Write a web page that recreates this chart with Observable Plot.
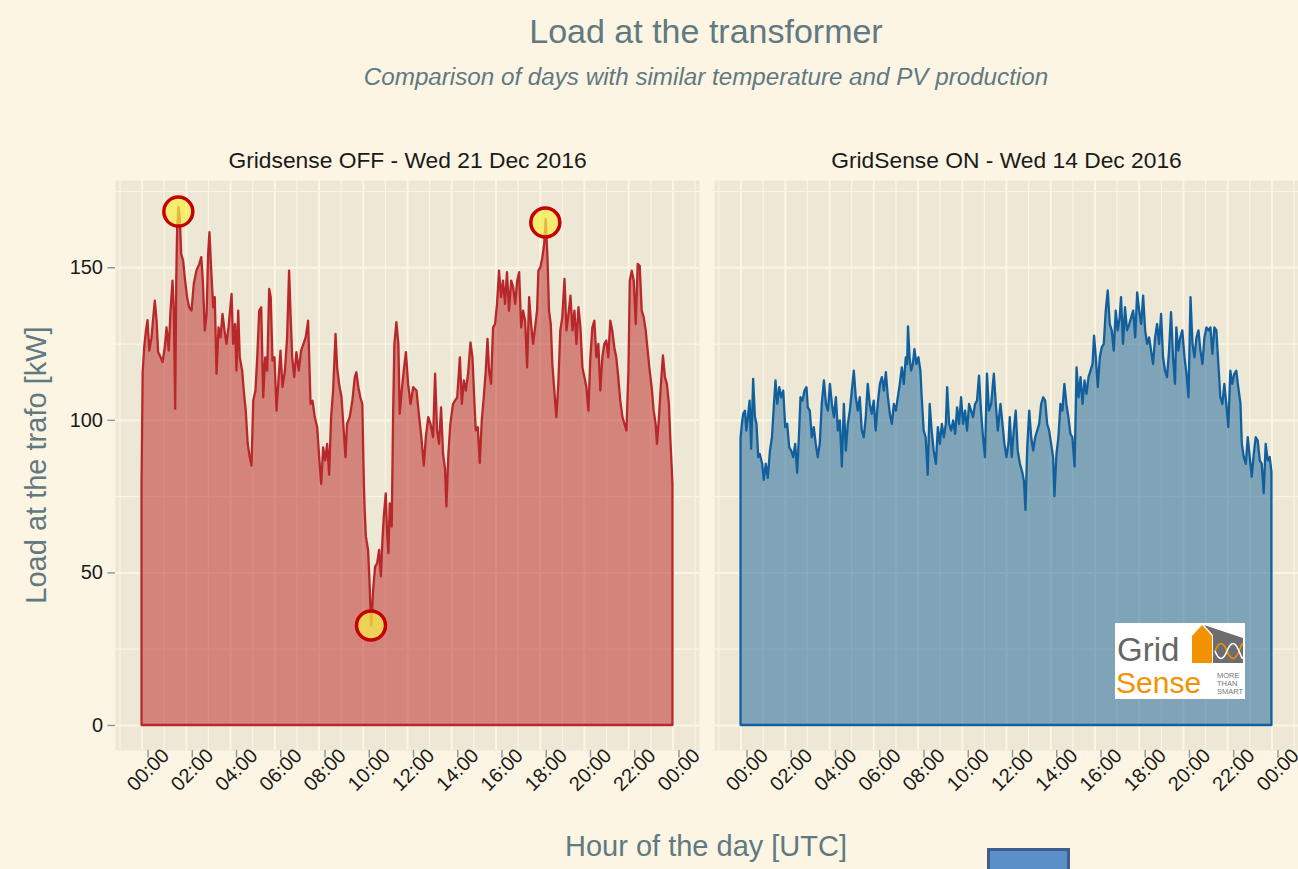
<!DOCTYPE html>
<html>
<head>
<meta charset="utf-8">
<script src="https://cdn.jsdelivr.net/npm/d3@7"></script>
<script src="https://cdn.jsdelivr.net/npm/@observablehq/plot@0.6"></script>
<style>
  body { margin: 0; background: #fcf5e3; }
  #page { position: relative; width: 1298px; height: 869px; background: #fcf5e3; overflow: hidden;
          font-family: "Liberation Sans", Arial, Helvetica, sans-serif; }
  .t { position: absolute; white-space: nowrap; line-height: 1; }
  #chart { position: absolute; left: 0; top: 120px; }
</style>
</head>
<body>
<div id="page">
  <div class="t" id="title" style="left:406px;width:600px;text-align:center;top:14px;font-size:34px;color:#617981;">Load at the transformer</div>
  <div class="t" id="subtitle" style="left:306px;width:800px;text-align:center;top:65px;font-size:24.2px;font-style:italic;color:#617981;">Comparison of days with similar temperature and PV production</div>
  <div class="t" id="ytitle" style="left:36px;top:465px;font-size:29px;color:#617981;transform:translate(-50%,-50%) rotate(-90deg);">Load at the trafo [kW]</div>
  <div class="t" id="xtitle" style="left:406px;width:600px;text-align:center;top:832px;font-size:29px;color:#617981;">Hour of the day [UTC]</div>
  <div id="chart"></div>
  <div id="logo" style="position:absolute;left:1115px;top:623px;width:130px;height:76px;background:#fff;">
    <svg width="130" height="76" viewBox="0 0 130 76" style="display:block">
      <polygon points="89,2 128,15 128,40 98,40 98,12" fill="#6d6d6d"/>
      <polygon points="77,40 77,13 87,2 97,13 97,40" fill="#f39200"/>
      <path d="M100,28 C104,18 108,18 112,28 S120,38 124,28 S127,21 128,22" fill="none" stroke="#f39200" stroke-width="1.6"/>
      <path d="M100,28 C104,38 108,38 112,28 S120,18 124,28 S127,35 128,34" fill="none" stroke="#ffffff" stroke-width="1.6"/>
      <text x="2" y="38" font-size="33" fill="#666666" font-family="Liberation Sans, Arial, sans-serif">Grid</text>
      <text x="1" y="70" font-size="30" fill="#f39200" font-family="Liberation Sans, Arial, sans-serif">Sense</text>
      <text x="102" y="55" font-size="7.5" fill="#777" font-family="Liberation Sans, Arial, sans-serif">MORE</text>
      <text x="102" y="63" font-size="7.5" fill="#777" font-family="Liberation Sans, Arial, sans-serif">THAN</text>
      <text x="102" y="71" font-size="7.5" fill="#777" font-family="Liberation Sans, Arial, sans-serif">SMART</text>
    </svg>
  </div>
  <div id="legendKey" style="position:absolute;left:987px;top:848px;width:77px;height:40px;background:#5b8fc8;border:3px solid #3e5f8c;"></div>
</div>
<script>
// ---- data ----
const days = ["Gridsense OFF - Wed 21 Dec 2016", "GridSense ON - Wed 14 Dec 2016"];

const offHours = [0.00,0.05,0.12,0.20,0.27,0.35,0.45,0.53,0.60,0.68,0.75,0.86,0.95,1.05,1.13,1.23,1.31,1.40,1.46,1.52,1.57,1.61,1.67,1.73,1.79,1.88,1.97,2.06,2.15,2.26,2.36,2.48,2.61,2.70,2.77,2.86,2.94,3.01,3.07,3.15,3.24,3.31,3.39,3.48,3.57,3.66,3.75,3.84,3.93,4.07,4.14,4.23,4.29,4.37,4.44,4.55,4.62,4.71,4.80,4.89,4.97,5.05,5.15,5.23,5.32,5.41,5.50,5.59,5.68,5.77,5.84,5.92,6.01,6.10,6.19,6.28,6.37,6.48,6.58,6.67,6.73,6.81,6.90,7.00,7.11,7.21,7.32,7.42,7.53,7.64,7.73,7.83,7.94,8.03,8.12,8.21,8.30,8.39,8.48,8.57,8.66,8.77,8.84,8.93,9.04,9.14,9.22,9.29,9.41,9.53,9.64,9.71,9.80,9.89,9.98,10.05,10.09,10.14,10.24,10.30,10.35,10.38,10.42,10.47,10.56,10.65,10.74,10.82,10.89,10.95,11.04,11.10,11.16,11.22,11.31,11.37,11.43,11.52,11.61,11.67,11.76,11.85,11.95,12.05,12.16,12.28,12.43,12.55,12.65,12.76,12.85,12.96,13.06,13.18,13.27,13.36,13.45,13.54,13.63,13.72,13.78,13.87,13.96,14.08,14.17,14.27,14.39,14.48,14.57,14.66,14.76,14.87,14.96,15.05,15.11,15.20,15.29,15.38,15.47,15.56,15.64,15.71,15.80,15.89,15.98,16.07,16.16,16.25,16.34,16.43,16.52,16.61,16.71,16.80,16.89,16.98,17.07,17.16,17.25,17.34,17.43,17.52,17.61,17.70,17.79,17.88,17.94,18.03,18.12,18.20,18.27,18.35,18.42,18.50,18.57,18.66,18.75,18.84,18.93,19.02,19.12,19.21,19.30,19.39,19.48,19.57,19.66,19.75,19.84,19.93,20.02,20.11,20.20,20.29,20.38,20.47,20.56,20.65,20.74,20.83,20.92,21.01,21.10,21.19,21.28,21.37,21.46,21.55,21.64,21.74,21.83,21.92,22.01,22.07,22.16,22.25,22.34,22.43,22.52,22.61,22.70,22.79,22.88,22.97,23.06,23.15,23.24,23.30,23.39,23.48,23.57,23.66,23.75,23.84,23.90,23.96,24.00];
const offLoad = [79,115.6,123.8,129.3,132.7,122.7,127,133.6,139.1,132.5,122.2,120.5,118.9,123.8,130.3,122.7,135.8,145.6,135.8,103.6,146.7,163.1,169.7,166.4,154.4,152.2,145.6,140.2,136.9,135.8,144.5,148.9,151.1,153.3,145.6,129.3,134.7,154.4,161.5,148.9,136.9,140.2,115.1,130.3,127,134.7,129.3,124.9,130.3,141.3,124.9,131.4,116.1,135.8,120.5,116.1,109.6,103,92.1,87.8,85.0,106.3,109.6,120.5,135.8,136.9,107.4,120.5,116.1,142.9,140.2,119.4,120.5,103,112.9,122.7,110.7,116.1,127,148.9,135.8,120.5,114,122.2,116.1,122.7,124.9,127,132.5,105.2,106.3,100.9,97.6,87.8,79,91,86.7,92.1,82,100.9,109.6,128.2,117.2,111.8,107.4,96.5,87.8,98.7,100.9,106.3,114,115.6,110.7,107.4,105.2,79,70,61.8,57.4,48,38,32.5,37,44.4,52,53,57.4,48.7,60.7,68.3,75.9,63,56.3,72.6,65,100.9,124.9,132,124.9,102,109.6,116,122.2,111.8,105.2,110.7,109.6,100.9,94.3,85,94.3,100.9,98.7,94.3,115.1,96.5,92.1,104.1,88.8,83.9,71.6,88.8,98.7,105.2,106.3,107.4,120.5,105.2,112.9,109.6,115.1,125.4,120.5,105.2,96.5,97.6,85.9,99.8,107.4,116.1,126.5,116.1,111.8,130.3,131.4,138,148.9,140.2,145.6,138,148.4,135.8,145.6,143.4,138,145.6,148.4,130.3,135.8,132.5,117.2,140.2,131.4,124.9,130.3,135.8,148.9,150,153.3,157.6,165.8,153.3,135.8,131.4,118.3,109.6,100.9,111.8,129.3,133.6,146.2,129.3,134.7,140.7,129.3,135.8,124.9,136.9,130.3,117.2,114,110.7,103,120.5,130.3,132.5,120.5,124.9,109.6,120.5,124.9,126,120.5,132.5,129.3,123.8,120.5,114,106.3,100.9,98.7,96.5,116.1,145.6,148.9,145.6,131.4,151.1,150.5,135.8,133.6,129.3,122.7,116.1,110.7,103,98.7,92.1,100.9,111.8,121.1,114,111.8,105.2,94.3,85.6,79];

const onHours = [0.00,0.06,0.12,0.20,0.26,0.33,0.41,0.48,0.57,0.65,0.72,0.80,0.87,0.98,1.05,1.14,1.23,1.33,1.42,1.51,1.58,1.66,1.75,1.84,1.93,2.02,2.11,2.20,2.29,2.38,2.47,2.56,2.65,2.71,2.80,2.89,2.98,3.04,3.13,3.22,3.31,3.40,3.49,3.58,3.67,3.77,3.86,3.95,4.04,4.13,4.22,4.31,4.40,4.49,4.58,4.67,4.76,4.85,4.94,5.03,5.12,5.21,5.30,5.39,5.48,5.57,5.66,5.75,5.84,5.93,6.02,6.11,6.20,6.30,6.39,6.48,6.57,6.66,6.75,6.84,6.93,7.02,7.11,7.20,7.29,7.38,7.47,7.53,7.57,7.64,7.71,7.79,7.86,7.95,8.04,8.13,8.19,8.28,8.37,8.46,8.55,8.64,8.73,8.83,8.92,9.01,9.10,9.19,9.28,9.34,9.43,9.52,9.61,9.70,9.79,9.88,9.97,10.06,10.15,10.24,10.33,10.42,10.51,10.60,10.69,10.78,10.87,10.96,11.05,11.14,11.23,11.33,11.45,11.54,11.63,11.75,11.84,11.93,12.02,12.11,12.17,12.26,12.35,12.44,12.53,12.63,12.73,12.81,12.88,12.96,13.05,13.14,13.23,13.32,13.41,13.50,13.59,13.68,13.77,13.86,13.95,14.04,14.13,14.19,14.28,14.37,14.46,14.55,14.64,14.73,14.82,14.91,15.00,15.10,15.19,15.28,15.37,15.46,15.55,15.64,15.73,15.82,15.91,15.98,16.06,16.15,16.24,16.33,16.42,16.51,16.60,16.69,16.78,16.87,16.96,17.05,17.14,17.20,17.29,17.38,17.47,17.57,17.66,17.75,17.84,17.93,18.02,18.11,18.20,18.29,18.38,18.47,18.56,18.65,18.74,18.83,18.92,19.01,19.10,19.19,19.28,19.37,19.46,19.55,19.64,19.70,19.79,19.88,19.97,20.07,20.16,20.25,20.34,20.43,20.52,20.61,20.70,20.79,20.88,20.97,21.06,21.15,21.24,21.33,21.42,21.51,21.60,21.69,21.78,21.87,21.96,22.05,22.14,22.23,22.32,22.41,22.50,22.60,22.66,22.75,22.84,22.93,23.02,23.11,23.20,23.29,23.38,23.47,23.56,23.65,23.74,23.83,23.92,24.00];
const onLoad = [94,98.7,102,103,96.5,100.9,106.3,90.5,113.4,100.9,98.7,87.8,88.8,85.6,80.3,85.6,81,89.9,94.3,105.2,112.9,105.2,110.7,107.4,109.6,97.6,98.7,91,89.9,87.8,92.1,82.6,96.5,107.4,106.3,109.6,110.7,104.1,103,94.3,97.6,92.1,87.8,92.1,105.2,112.9,105.2,103,111.8,105.2,100.9,107.4,96.5,99.8,84.7,105.2,89.9,98.7,103,109.6,116.1,107.4,103,107.4,96.5,94.3,100.9,111.8,105.2,102,106.3,96.5,105.2,111.8,114,109.6,115.6,107.4,102,98.7,105.2,103,107.4,111.8,117.2,111.8,120.5,118.3,130.6,120.5,116.1,118.3,123.2,118.3,120.5,116.1,107.4,96.5,94.3,82,105.2,96.5,89.9,85.6,97.6,92.1,98.7,94.3,98.7,110.7,98.7,96.5,99.8,95.4,104.1,98.7,107.4,98.7,103,96.5,105.2,103,100.9,105.2,106.3,114.5,103,94.3,87.8,115.1,103,105.2,115.1,105.2,96.5,105.2,98.7,92.1,87.8,92.1,100.9,87.8,96.5,103,89.9,85.6,83,80,70.5,91,103,94.3,89.9,94.3,96.5,98.7,105.2,107.4,106.3,98.7,96.5,92.1,87.8,75,88.8,94.3,105.2,103,111.8,105.2,100.9,95.4,94.3,84.7,117.2,107.4,114,105.2,112.9,108.5,114,116.1,118.3,127.6,120.5,110.7,120.5,123.8,124.9,135.8,142.4,131.4,129.3,122.7,135.8,129.3,133.6,140.2,124.9,136.9,129.3,131.4,133.6,135.8,127,141.8,135.8,131.4,140.7,129.3,124.9,127,122.7,118.3,127,131.4,124.9,134.7,120.5,116.1,114,122.7,135.3,120.5,111.8,130.3,122.7,127,129.3,120.5,115.1,107.4,140.2,124.9,120.5,127,129.3,122.7,118.3,127,130.3,129.3,130.3,121.6,130.3,129.3,118.3,107.4,105.2,111.8,105.2,97.6,116.1,111.8,115.1,116.1,110.7,105.2,92.1,87.8,85.6,94.3,87.8,81.4,88.8,94.3,93.2,86.7,85.6,76,92.1,86.7,87.8,83];

// highlighted extremes on the OFF day
const markerHours = [1.64, 10.35, 18.23];
const markerLoads = [168.4, 32.8, 164.8];

const majorHours = [0, 2, 4, 6, 8, 10, 12, 14, 16, 18, 20, 22, 24];
const minorHours = [-1, 1, 3, 5, 7, 9, 11, 13, 15, 17, 19, 21, 23, 25];
const majorLoads = [0, 50, 100, 150];
const minorLoads = [25, 75, 125, 175];

// ---- build tables ----
const offRows = offHours.map((h, i) => ({day: days[0], hour: h, load: offLoad[i]}));
const onRows = onHours.map((h, i) => ({day: days[1], hour: h, load: onLoad[i]}));
const markers = markerHours.map((h, i) => ({day: days[0], hour: h, load: markerLoads[i]}));

const panelBg = "#ede7d5";
const gridCol = "#fbf5e2";
const tickCol = "#8a9ca2";
const fmt = d => String(d % 24).padStart(2, "0") + ":00";

const chart = Plot.plot({
  width: 1298,
  height: 749,
  marginLeft: 115,
  marginRight: 0,
  marginTop: 60,
  marginBottom: 119,
  style: {background: "transparent", fontFamily: "'Liberation Sans', Arial, Helvetica, sans-serif", color: "#1a1a1a"},
  fx: {domain: days, paddingInner: 15 / 599, paddingOuter: 0, axis: null, label: null},
  x: {domain: [-1.2, 25.2], axis: null},
  y: {domain: [-8.2, 178.6], axis: null},
  marks: [
    Plot.frame({fill: panelBg, stroke: "none"}),
    Plot.gridX(minorHours, {stroke: gridCol, strokeOpacity: 1, strokeWidth: 1.2}),
    Plot.gridX(majorHours, {stroke: gridCol, strokeOpacity: 1, strokeWidth: 2}),
    Plot.gridY(minorLoads, {stroke: gridCol, strokeOpacity: 1, strokeWidth: 1.2}),
    Plot.gridY(majorLoads, {stroke: gridCol, strokeOpacity: 1, strokeWidth: 2}),
    Plot.areaY(offRows, {fx: "day", x: "hour", y: "load", fill: "#b92323", fillOpacity: 0.5, stroke: "#b8282a", strokeWidth: 2.3, curve: "linear"}),
    Plot.areaY(onRows, {fx: "day", x: "hour", y: "load", fill: "#11619a", fillOpacity: 0.5, stroke: "#11609d", strokeWidth: 2.3, curve: "linear"}),
    Plot.dot(markers, {fx: "day", x: "hour", y: "load", r: 14.5, fill: "#f8ee4a", fillOpacity: 0.72, stroke: "#c40000", strokeWidth: 3.5}),
    Plot.axisX({ticks: majorHours, tickFormat: fmt, tickSize: 7.5, tickPadding: 12, tickRotate: -45,
                textAnchor: "middle", lineAnchor: "middle", dx: 6, fontSize: 20,
                stroke: tickCol, strokeWidth: 1.5, fill: "#1a1a1a", label: null}),
    Plot.axisY({ticks: majorLoads, tickSize: 7.5, tickPadding: 5, fontSize: 20,
                stroke: tickCol, strokeWidth: 1.5, fill: "#1a1a1a", label: null}),
    Plot.text(days, {fx: d => d, text: d => d, frameAnchor: "top", dy: -13, lineAnchor: "bottom",
                     fontSize: 22.8, fill: "#1a1a1a"})
  ]
});
document.getElementById("chart").appendChild(chart);
</script>
</body>
</html>
